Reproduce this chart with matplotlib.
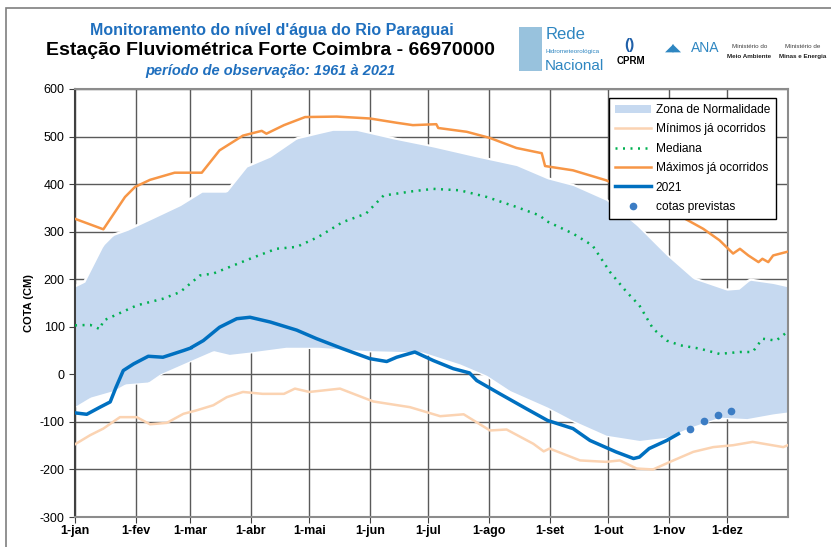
import numpy as np
import matplotlib.pyplot as plt
from matplotlib.patches import Rectangle

plt.rcParams['font.family'] = ['Liberation Sans', 'DejaVu Sans']
plt.rcParams['axes.unicode_minus'] = False

# dias do ano (0 = 1-jan)
meses = [0, 31, 59, 90, 120, 151, 181, 212, 243, 273, 304, 334]
meses_lbl = ['1-jan', '1-fev', '1-mar', '1-abr', '1-mai', '1-jun',
             '1-jul', '1-ago', '1-set', '1-out', '1-nov', '1-dez']

# zona de normalidade (limite superior / inferior)
zona_sup_d = [0, 5, 14.5, 19.6, 27, 38, 54, 65, 77.7, 88, 100, 113.5, 124.6, 132, 144,
              163, 183.5, 205.7, 226, 242, 255, 272, 287.6, 303, 316.6, 333.7, 340,
              345.6, 357.5, 365]
zona_sup = [184, 194, 271, 292, 303, 324, 355, 383, 383, 436, 457, 495, 506, 513, 513,
            495, 478, 457, 439, 411, 397, 366, 313, 250, 201, 177, 179,
            198, 191, 184]
zona_inf_d = [0, 7.7, 19.6, 25.6, 37.5, 43.5, 59, 70.8, 79, 89.6, 108, 124.6, 149,
              178, 197, 210.8, 222.7, 242, 255, 272, 289, 303, 315, 330, 344, 357.5, 365]
zona_inf = [-67, -48, -34, -20, -16, 1, 29, 50, 42, 47, 57, 57, 50,
            47, 22, -2, -34, -69, -97, -128, -139, -132, -111, -90, -93, -83, -79]

# mínimos já ocorridos
min_d = [0, 7.7, 14.5, 23, 31.6, 38.4, 47, 55.5, 62, 70.8, 77.7, 86, 96, 107, 112.6,
         120, 135.7, 152.7, 171.5, 187, 199, 212.5, 221, 234.7, 240, 243, 258.6, 272,
         279, 287.6, 296, 304.7, 316.6, 326.8, 337, 347, 362.7, 365]
minimos = [-147, -128, -114, -90, -90, -105, -102, -83, -76, -65, -48, -37, -41, -41, -30,
           -37, -30, -57, -69, -88, -84, -118, -116, -146, -162, -156, -181, -184,
           -181, -198, -200, -184, -163, -153, -149, -142, -153, -149]

# mediana
med_d = [0, 7.7, 12.8, 14.5, 31.6, 45, 53.8, 64, 70.8, 89.6, 103, 113.5, 124.6, 137,
         149, 158, 173, 183.5, 197, 210.8, 226, 238, 241.5, 255, 265, 274, 282.5, 289,
         296, 303, 310, 320, 330, 340.5, 347, 352, 359, 365]
mediana = [103, 104, 95, 113, 145, 159, 173, 208, 212, 243, 264, 268, 289, 320,
           338, 376, 385, 390, 387, 373, 352, 334, 322, 296, 271, 215, 173, 145,
           96, 71, 61, 54, 43, 47, 47, 75, 71, 90]

# máximos já ocorridos
max_d = [0, 14.5, 25.6, 30.7, 38.4, 51, 64.9, 74, 86, 95.6, 98, 107, 117.8, 134, 151,
         164.7, 173, 185, 186, 200.6, 212.5, 226, 239, 240.7, 255, 272, 285, 300, 312,
         321.7, 330, 337, 340.5, 344.8, 350, 352, 355, 357.5, 365]
maximos = [327, 305, 373, 394, 409, 424, 424, 471, 502, 512, 506, 524, 541, 542, 538,
           529, 524, 526, 518, 510, 497, 476, 465, 438, 429, 408, 385, 352, 328,
           306, 282, 254, 264, 250, 236, 243, 236, 250, 258]

# 2021
ano_d = [0, 6, 12.8, 18, 21, 24.7, 30, 37.5, 45, 55.5, 59, 59.6, 60.2, 65.7, 74, 82.8,
         89.6, 100, 113.5, 123.7, 137, 151, 159.6, 164.7, 174, 183.5, 193.7, 202, 205.7,
         217.6, 231, 242, 255, 263.7, 277, 286, 289, 294, 303, 309]
ano_2021 = [-81, -84, -69, -58, -27, 8, 22, 38, 36, 50, 55, np.nan, 58, 71, 99, 117,
            120, 110, 93, 75, 54, 33, 27, 36, 47, 29, 12, 3, -13,
            -41, -72, -97, -114, -139, -163, -177, -174, -156, -139, -125]

# cotas previstas
prev_d = [315, 322, 329.4, 336]
previstas = [-114, -99, -85, -77]

c_zona = '#C6D9F0'
c_min = '#FBD3B2'
c_med = '#00B050'
c_max = '#F79646'
c_2021 = '#0070C0'
c_prev = '#3C7DC4'

fig = plt.figure(figsize=(8.31, 5.47), dpi=100)
ax = fig.add_axes([0.0903, 0.0548, 0.8577, 0.7825])

# área de normalidade (interpolada em grade diária só para preencher)
dias = np.arange(0, 366)
sup = np.interp(dias, zona_sup_d, zona_sup)
inf = np.interp(dias, zona_inf_d, zona_inf)
ax.fill_between(dias, inf, sup, color=c_zona, lw=0, zorder=2, label='Zona de Normalidade')
ax.plot(dias, sup, color='white', lw=2.5, zorder=2.1)
ax.plot(dias, inf, color='white', lw=2.5, zorder=2.1)
ax.fill_between(dias, inf, sup, color=c_zona, lw=0, zorder=2.2)

ax.plot(min_d, minimos, color=c_min, lw=1.8, zorder=3, label='Mínimos já ocorridos')
ax.plot(med_d, mediana, color=c_med, lw=1.8, ls=(0, (0.8, 2.2)), zorder=3, label='Mediana')
ax.plot(max_d, maximos, color=c_max, lw=1.8, zorder=3, label='Máximos já ocorridos')
ax.plot(ano_d, ano_2021, color=c_2021, lw=2.5, zorder=4, label='2021')
ax.plot(prev_d, previstas, 'o', color=c_prev, ms=4.5, zorder=5, label='cotas previstas')

ax.set_xlim(0, 365)
ax.set_ylim(-300, 600)
ax.set_xticks(meses)
ax.set_xticklabels(meses_lbl, fontweight='bold', fontsize=9)
ax.set_yticks(np.arange(-300, 601, 100))
ax.tick_params(axis='y', labelsize=9, direction='out', length=4, color='#404040')
ax.tick_params(axis='x', direction='out', length=4, pad=2, color='#404040')
ax.grid(True, color='#5A5A5A', lw=1.0, zorder=0)
ax.set_axisbelow(True)
for s in ['top', 'right', 'bottom']:
    ax.spines[s].set_color('#8C8C8C')
    ax.spines[s].set_linewidth(1.5)
ax.spines['left'].set_color('#404040')
ax.spines['left'].set_linewidth(1.5)
ax.set_ylabel('COTA (CM)', fontweight='bold', fontsize=8, labelpad=4)

leg = ax.legend(loc='upper right', bbox_to_anchor=(0.992, 0.993), fontsize=8.6,
                frameon=True, fancybox=False, edgecolor='black', framealpha=1,
                handlelength=3.0, labelspacing=0.62, borderpad=0.5, handletextpad=0.4)
leg.get_frame().set_linewidth(1.0)
leg.set_zorder(10)

# títulos
fig.text(0.327, 0.945, "Monitoramento do nível d'água do Rio Paraguai", ha='center',
         va='center', color='#1F6FBE', fontweight='bold', fontsize=11.5)
fig.text(0.325, 0.908, 'Estação Fluviométrica Forte Coimbra - 66970000', ha='center',
         va='center', color='black', fontweight='bold', fontsize=14)
fig.text(0.325, 0.871, 'período de observação: 1961 à 2021', ha='center', va='center',
         color='#1F6FBE', fontweight='bold', style='italic', fontsize=10.5)

# logotipos (texto)
fig.text(0.656, 0.937, 'Rede', color='#2E86C1', fontsize=12, ha='left', va='center')
fig.text(0.656, 0.906, 'Hidrometeorológica', color='#2E86C1', fontsize=4.5, ha='left', va='center')
fig.text(0.656, 0.880, 'Nacional', color='#2E86C1', fontsize=11, ha='left', va='center')
fig.patches.append(Rectangle((0.625, 0.87), 0.027, 0.08, transform=fig.transFigure,
                             facecolor='#7FB3D5', edgecolor='none', alpha=0.8))
fig.text(0.757, 0.918, '()', color='#1F5FA8', fontsize=11, fontweight='bold',
         ha='center', va='center')
fig.text(0.759, 0.888, 'CPRM', color='black', fontsize=7, fontweight='bold',
         ha='center', va='center')
fig.text(0.832, 0.912, 'ANA', color='#2E86C1', fontsize=10, ha='left', va='center')
fig.text(0.800, 0.912, '◢◣', color='#2E86C1', fontsize=8, ha='left', va='center')
fig.text(0.902, 0.915, 'Ministério do', color='#404040', fontsize=4.5, ha='center', va='center')
fig.text(0.902, 0.897, 'Meio Ambiente', color='#202020', fontsize=4.5, fontweight='bold',
         ha='center', va='center')
fig.text(0.966, 0.915, 'Ministério de', color='#404040', fontsize=4.5, ha='center', va='center')
fig.text(0.966, 0.897, 'Minas e Energia', color='#202020', fontsize=4.5, fontweight='bold',
         ha='center', va='center')

# moldura externa
fig.patches.append(Rectangle((0.007, -0.05), 1.1, 1.035, transform=fig.transFigure,
                             facecolor='none', edgecolor='#7F7F7F', lw=1.2))

fig.savefig('out.png', dpi=100)
